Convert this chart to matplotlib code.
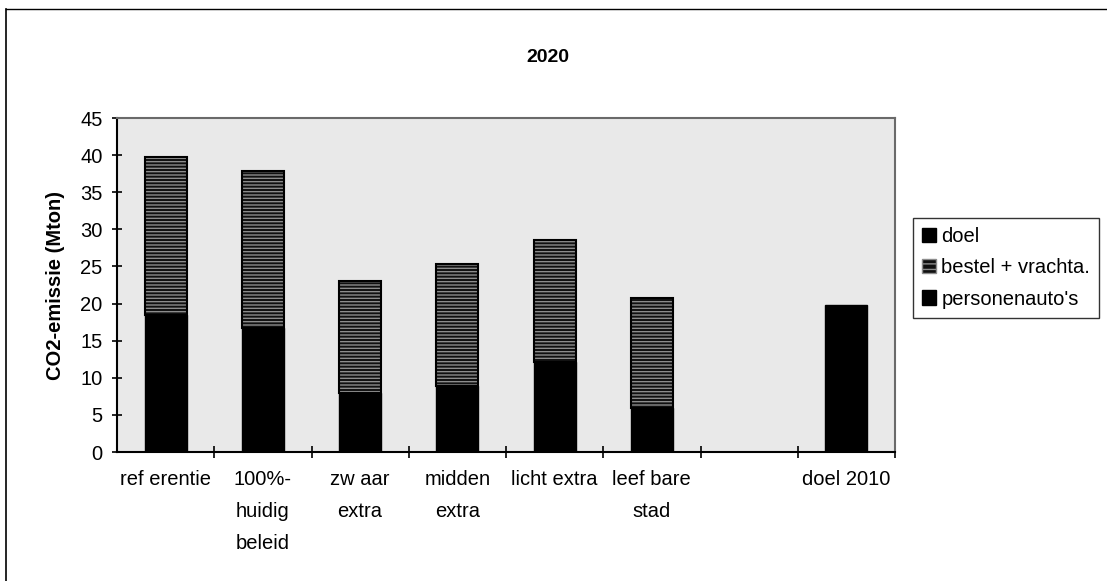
import matplotlib

matplotlib.use("Agg")
import matplotlib.pyplot as plt
import numpy as np
from matplotlib.lines import Line2D
from matplotlib.patches import Patch

plt.rcParams["font.family"] = ["Liberation Sans", "DejaVu Sans"]
plt.rcParams["hatch.linewidth"] = 1.0

# CO2 emissions 2020 per scenario (Mton)
categories = [
    "ref erentie",
    "100%-\nhuidig\nbeleid",
    "zw aar\nextra",
    "midden\nextra",
    "licht extra",
    "leef bare\nstad",
    "",
    "doel 2010",
]
personenautos = [18.5, 16.7, 7.9, 8.9, 12.1, 5.9, np.nan, np.nan]
bestel_vracht = [21.3, 21.2, 15.1, 16.4, 16.4, 14.9, np.nan, np.nan]
doel = [np.nan, np.nan, np.nan, np.nan, np.nan, np.nan, np.nan, 19.8]

x = np.arange(len(categories))
width = 0.43
pers = np.array(personenautos, dtype=float)
best = np.array(bestel_vracht, dtype=float)
goal = np.array(doel, dtype=float)
bottom_best = np.nan_to_num(pers)
bottom_goal = bottom_best + np.nan_to_num(best)

fig = plt.figure(figsize=(11.07, 5.81), dpi=100)
ax = fig.add_axes([117 / 1107, 1 - 452 / 581, (895 - 117) / 1107, (452 - 118) / 581])
ax.set_facecolor("#e9e9e9")

ax.bar(x, pers, width, color="black", edgecolor="black", linewidth=1.0, zorder=3)
# hatched middle segment: grey lines on black, then a black outline on top
ax.bar(x, best, width, bottom=bottom_best, color="#101010", edgecolor="#8c8c8c",
       hatch="-----", linewidth=0, zorder=3)
ax.bar(x, best, width, bottom=bottom_best, fill=False, edgecolor="black",
       linewidth=1.5, zorder=4)
ax.bar(x, goal, width, bottom=bottom_goal, color="black", edgecolor="black",
       linewidth=1.0, zorder=3)

ax.set_xlim(-0.5, len(categories) - 0.5)
ax.set_ylim(0, 45)
ax.set_yticks(np.arange(0, 46, 5))
ax.tick_params(axis="y", direction="inout", length=7, width=1.2, labelsize=14.5, pad=7)

ax.set_xticks(x + 0.5)
ax.set_xticklabels([])
ax.tick_params(axis="x", which="major", direction="inout", length=9, width=1.2)
ax.set_xticks(x, minor=True)
ax.set_xticklabels(categories, minor=True, fontsize=14.5, linespacing=1.85, va="top")
ax.tick_params(axis="x", which="minor", length=0, pad=13)

for side in ("left", "bottom"):
    ax.spines[side].set_linewidth(1.5)
    ax.spines[side].set_color("black")
for side in ("top", "right"):
    ax.spines[side].set_linewidth(1.5)
    ax.spines[side].set_color("#6a6a6a")

ax.set_ylabel("CO2-emissie (Mton)", fontsize=14.5, fontweight="bold", labelpad=11)
fig.text(0.495, 1 - 58 / 581, "2020", ha="center", va="center",
         fontsize=14, fontweight="bold")

# outer chart frame
fig.add_artist(Line2D([6 / 1107, 6 / 1107], [0, 1 - 9 / 581], transform=fig.transFigure,
                      color="black", lw=1.2))
fig.add_artist(Line2D([6 / 1107, 1], [1 - 9 / 581, 1 - 9 / 581], transform=fig.transFigure,
                      color="black", lw=1.0))

handles = [
    Patch(facecolor="black", edgecolor="black", label="doel"),
    Patch(facecolor="#101010", edgecolor="#8c8c8c", hatch="---", label="bestel + vrachta."),
    Patch(facecolor="black", edgecolor="black", label="personenauto's"),
]
leg = fig.legend(handles=handles, loc="center left",
                 bbox_to_anchor=(913 / 1107, 1 - 268 / 581),
                 fontsize=14.5, frameon=True, fancybox=False, handlelength=0.7,
                 handleheight=0.7, handletextpad=0.25, labelspacing=0.6,
                 borderpad=0.45, borderaxespad=0)
leg.get_frame().set_edgecolor("black")
leg.get_frame().set_linewidth(1.0)

fig.savefig("out.png", dpi=100)
